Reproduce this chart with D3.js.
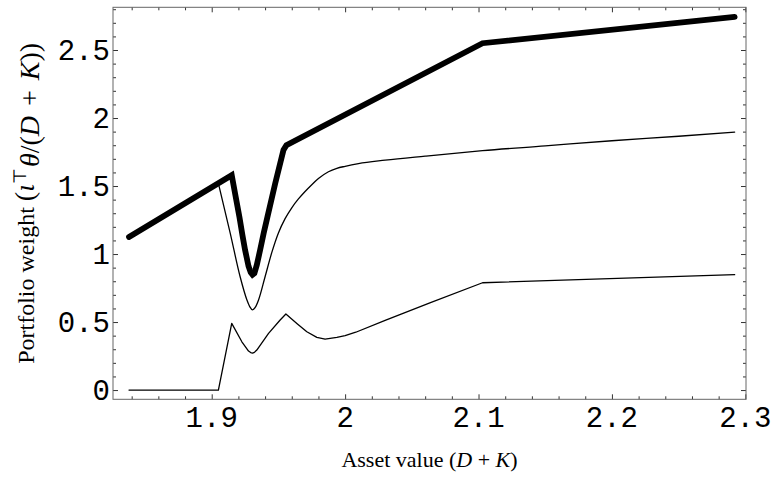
<!DOCTYPE html>
<html>
<head>
<meta charset="utf-8">
<script src="https://cdn.jsdelivr.net/npm/d3@7"></script>
<style>
  body { margin: 0; background: #fff; }
</style>
</head>
<body>
<div id="grafico"></div>
<script>
// valores: x = asset value, y = portfolio weight

// linea gruesa (total)
const total_x = [1.838, 1.915, 1.918, 1.9208, 1.923, 1.925, 1.9276, 1.9292, 1.9306, 1.932, 1.9338, 1.9363, 1.939, 1.9418, 1.9476, 1.9538, 1.956, 2.103, 2.292]
const total_y = [1.125, 1.58, 1.42, 1.27, 1.14, 1.03, 0.91, 0.865, 0.848, 0.858, 0.92, 1.03, 1.155, 1.274, 1.52, 1.765, 1.80, 2.55, 2.743]

// linea fina de arriba
const upper_x = [1.905, 1.9139, 1.9213, 1.9264, 1.9286, 1.9306, 1.9326, 1.9351, 1.940, 1.945, 1.950, 1.955, 1.960, 1.965, 1.970, 1.975, 1.980, 1.9875, 1.9938, 2.0, 2.01, 2.03, 2.06, 2.103, 2.15, 2.2, 2.25, 2.292]
const upper_y = [1.52, 1.152, 0.833, 0.662, 0.612, 0.59, 0.607, 0.662, 0.833, 1.01, 1.155, 1.26, 1.34, 1.405, 1.46, 1.51, 1.555, 1.605, 1.63, 1.645, 1.665, 1.69, 1.72, 1.76, 1.795, 1.833, 1.866, 1.897]

// linea fina de abajo
const lower_x = [1.838, 1.905, 1.915, 1.9226, 1.9276, 1.9292, 1.9306, 1.932, 1.9338, 1.9426, 1.9513, 1.9556, 1.9638, 1.9713, 1.9788, 1.985, 1.9938, 2.0, 2.008, 2.03, 2.064, 2.103, 2.292]
const lower_y = [0, 0, 0.49, 0.355, 0.287, 0.276, 0.272, 0.277, 0.294, 0.417, 0.515, 0.559, 0.49, 0.429, 0.387, 0.375, 0.387, 0.40, 0.425, 0.513, 0.642, 0.789, 0.848]

const x_ticks = [1.9, 2, 2.1, 2.2, 2.3]
const x_labels = ["1.9", "2", "2.1", "2.2", "2.3"]
const y_ticks = [0, 0.5, 1, 1.5, 2, 2.5]
const y_labels = ["0", "0.5", "1", "1.5", "2", "2.5"]

function drawChart(container){

  const width = 773
  const height = 477
  const margin = ({top: 7.3, right: 27, bottom: 77.7, left: 113})

  const x = d3.scaleLinear()
    .domain([1.826, 2.3005])
    .range([margin.left, width - margin.right])

  const y = d3.scaleLinear()
    .domain([-0.068, 2.814])
    .range([height - margin.bottom, margin.top])

  const x_minor = d3.range(92, 115).map(i => i / 50).filter(v => !x_ticks.some(t => Math.abs(t - v) < 1e-9))
  const y_minor = d3.range(0, 29).map(i => i / 10).filter(v => !y_ticks.some(t => Math.abs(t - v) < 1e-9))

  const svg = d3.select(container).append("svg")
      .attr("width", width)
      .attr("height", height)
      .attr("viewBox", [0, 0, width, height])

  // ticks hacia dentro en los cuatro lados
  const tickColor = "#333"
  const addTicks = (axis, values, size, transform) => svg.append("g")
      .attr("transform", transform)
      .call(axis.tickValues(values).tickSize(-size).tickFormat(""))
      .call(g => g.select(".domain").remove())
      .call(g => g.selectAll("line").attr("stroke", tickColor))

  const bottom = `translate(0,${y.range()[0]})`
  const top = `translate(0,${y.range()[1]})`
  const left = `translate(${x.range()[0]},0)`
  const right = `translate(${x.range()[1]},0)`

  addTicks(d3.axisBottom(x), x_ticks, 5, bottom)
  addTicks(d3.axisBottom(x), x_minor, 3, bottom)
  addTicks(d3.axisTop(x), x_ticks, 5, top)
  addTicks(d3.axisTop(x), x_minor, 3, top)
  addTicks(d3.axisLeft(y), y_ticks, 5, left)
  addTicks(d3.axisLeft(y), y_minor, 3, left)
  addTicks(d3.axisRight(y), y_ticks, 5, right)
  addTicks(d3.axisRight(y), y_minor, 3, right)

  svg.append("rect")
      .attr("x", x.range()[0])
      .attr("y", y.range()[1])
      .attr("width", x.range()[1] - x.range()[0])
      .attr("height", y.range()[0] - y.range()[1])
      .attr("fill", "none")
      .attr("stroke", "#666")
      .attr("stroke-width", 1)

  // etiquetas de los ejes
  svg.append("g")
      .style("font", "29px 'Liberation Mono', monospace")
      .attr("text-anchor", "middle")
    .selectAll("text")
    .data(x_ticks)
    .join("text")
      .attr("x", d => x(d))
      .attr("y", 427)
      .text((d, i) => x_labels[i])

  svg.append("g")
      .style("font", "29px 'Liberation Mono', monospace")
      .attr("text-anchor", "end")
    .selectAll("text")
    .data(y_ticks)
    .join("text")
      .attr("x", x.range()[0] - 3)
      .attr("y", d => y(d))
      .attr("dy", "0.33em")
      .text((d, i) => y_labels[i])

  const xTitle = svg.append("text")
      .attr("x", (x.range()[0] + x.range()[1]) / 2)
      .attr("y", 467)
      .attr("text-anchor", "middle")
      .attr("xml:space", "preserve")
      .style("font", "22px 'Liberation Serif', serif")
  xTitle.append("tspan").text("Asset value (")
  xTitle.append("tspan").style("font-style", "italic").text("D")
  xTitle.append("tspan").text(" + ")
  xTitle.append("tspan").style("font-style", "italic").text("K")
  xTitle.append("tspan").text(")")

  // titulo vertical, la parte matematica algo mas grande
  const yTitle = svg.append("text")
      .attr("transform", `translate(34,${(y.range()[0] + y.range()[1]) / 2}) rotate(-90)`)
      .attr("text-anchor", "middle")
      .attr("xml:space", "preserve")
      .style("font", "24px 'Liberation Serif', serif")
  yTitle.append("tspan").text("Portfolio weight ")
  const m = yTitle.append("tspan").style("font-size", "28px")
  m.append("tspan").text("(")
  m.append("tspan").style("font-style", "italic").text("ι")
  m.append("tspan").attr("dy", "-0.45em").style("font-size", "18px").text("⊤")
  m.append("tspan").attr("dy", "0.45em").attr("dx", 1).style("font-style", "italic").text("θ")
  m.append("tspan").text("/(")
  m.append("tspan").style("font-style", "italic").text("D")
  m.append("tspan").attr("dx", 3).text(" + ")
  m.append("tspan").attr("dx", 3).style("font-style", "italic").text("K")
  m.append("tspan").text("))")

  // curvas
  const series = [
    {xs: lower_x, ys: lower_y, w: 1.3, curve: d3.curveLinear},
    {xs: upper_x, ys: upper_y, w: 1.3, curve: d3.curveMonotoneX},
    {xs: total_x, ys: total_y, w: 5.8, curve: d3.curveLinear}
  ]

  const line = d3.line()
      .x(d => x(d[0]))
      .y(d => y(d[1]))

  svg.append("g")
      .attr("fill", "none")
      .attr("stroke", "#000")
    .selectAll("path")
    .data(series)
    .join("path")
      .attr("stroke-width", d => d.w)
      .attr("stroke-linecap", "round")
      .attr("stroke-linejoin", d => d.w > 3 ? "miter" : "round")
      .attr("d", d => line.curve(d.curve)(d.xs.map((v, i) => [v, d.ys[i]])))
}

drawChart('#grafico')
</script>
</body>
</html>
